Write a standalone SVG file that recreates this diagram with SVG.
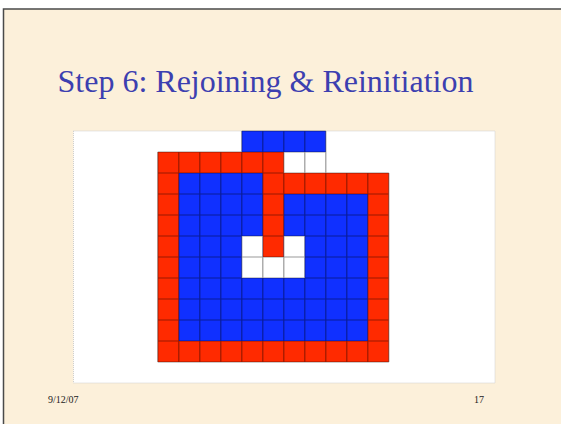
<svg xmlns="http://www.w3.org/2000/svg" width="561" height="424" viewBox="0 0 561 424">
<style>
.r{fill:#ff2a00}
.b{fill:#1030ff}
.grid{fill:none;stroke:#000;stroke-opacity:0.4;stroke-width:1.2}
.title{font-family:"Liberation Serif","Times New Roman",serif;font-size:32px;fill:#3c3fb0}
.foot{font-family:"Liberation Serif","Times New Roman",serif;font-size:10px;fill:#222}
</style>
<rect x="0" y="0" width="561" height="424" fill="#ffffff"/>
<rect x="3.5" y="9" width="558" height="416" fill="#fcf0da"/>
<path d="M3.5 424V9H561" fill="none" stroke="#4a4a4a" stroke-width="1.5"/>
<g id="title"><text class="title" x="265.5" y="92" text-anchor="middle">Step 6: Rejoining &amp; Reinitiation</text></g>
<g id="panel">
<rect x="73.5" y="131" width="421.5" height="252" fill="#ffffff" stroke="#cfcfcf" stroke-width="1" stroke-dasharray="1,1"/>
</g>
<g id="cells">
<rect class="b" x="241.8" y="131" width="84" height="21"/>
<rect class="r" x="157.8" y="152" width="126" height="21"/>
<rect class="r" x="157.8" y="173" width="231" height="189"/>
<rect class="b" x="178.8" y="194" width="189" height="147"/>
<rect class="b" x="178.8" y="173" width="84" height="21"/>
<rect class="r" x="262.8" y="173" width="21" height="84"/>
<rect x="241.8" y="236" width="21" height="21" fill="#fff"/>
<rect x="283.8" y="236" width="21" height="21" fill="#fff"/>
<rect x="241.8" y="257" width="63" height="21" fill="#fff"/>
</g>
<g id="gridlines">
<path class="grid" d="M241.8 131H325.8M157.8 152H325.8M157.8 173H388.8M157.8 194H388.8M157.8 215H388.8M157.8 236H388.8M157.8 257H388.8M157.8 278H388.8M157.8 299H388.8M157.8 320H388.8M157.8 341H388.8M157.8 362H388.8M157.8 152V362M178.8 152V362M199.8 152V362M220.8 152V362M241.8 131V362M262.8 131V362M283.8 131V362M304.8 131V362M325.8 131V362M346.8 173V362M367.8 173V362M388.8 173V362"/>
</g>
<g id="footer">
<text class="foot" x="48" y="403">9/12/07</text>
<text class="foot" x="474" y="403">17</text>
</g>
</svg>
